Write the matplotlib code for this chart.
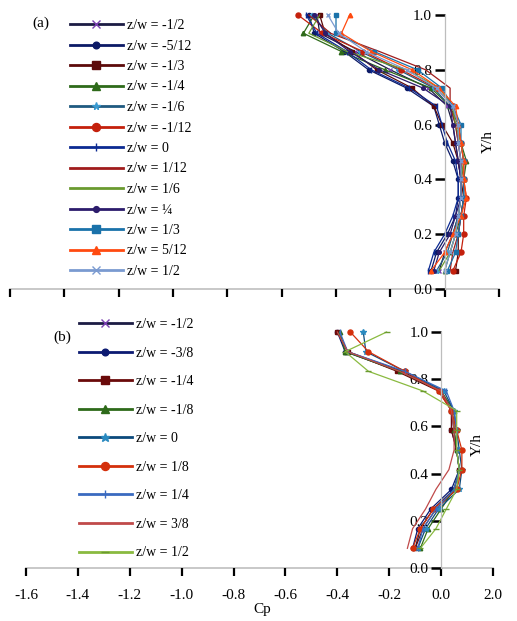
import matplotlib
matplotlib.use("Agg")
import matplotlib.pyplot as plt
import numpy as np

plt.rcParams['font.family'] = ['Liberation Serif', 'DejaVu Serif']

W, H = 517, 621

# ---------------- data ----------------
levels_a = [k / 15 for k in range(1, 16)]
labels_a = ["z/w = -1/2", "z/w = -5/12", "z/w = -1/3", "z/w = -1/4", "z/w = -1/6",
            "z/w = -1/12", "z/w = 0", "z/w = 1/12", "z/w = 1/6", "z/w = \u00bc",
            "z/w = 1/3", "z/w = 5/12", "z/w = 1/2"]
cp_a = [
    [-0.02, 0.00, 0.03, 0.05, 0.06, 0.06, 0.05, 0.04, 0.03, 0.01, -0.06, -0.20, -0.33, -0.46, -0.47],
    [-0.05, -0.03, 0.01, 0.04, 0.05, 0.05, 0.03, 0.00, -0.02, -0.04, -0.14, -0.28, -0.37, -0.48, -0.50],
    [0.04, 0.05, 0.05, 0.06, 0.07, 0.06, 0.05, 0.03, -0.01, -0.04, -0.12, -0.25, -0.34, -0.44, -0.46],
    [0.00, 0.02, 0.04, 0.06, 0.07, 0.07, 0.08, 0.06, 0.05, 0.02, -0.05, -0.22, -0.38, -0.52, -0.48],
    [-0.03, 0.01, 0.03, 0.05, 0.06, 0.06, 0.06, 0.05, 0.04, 0.02, -0.04, -0.17, -0.31, -0.43, -0.49],
    [0.03, 0.06, 0.07, 0.07, 0.08, 0.07, 0.07, 0.06, 0.05, 0.03, -0.03, -0.16, -0.30, -0.45, -0.54],
    [-0.06, -0.04, 0.00, 0.03, 0.05, 0.05, 0.04, 0.01, -0.01, -0.03, -0.13, -0.27, -0.36, -0.47, -0.51],
    [0.02, 0.03, 0.05, 0.06, 0.07, 0.07, 0.06, 0.05, 0.04, 0.02, 0.02, -0.07, -0.24, -0.42, -0.50],
    [-0.02, 0.02, 0.04, 0.05, 0.06, 0.06, 0.07, 0.06, 0.04, 0.03, -0.02, -0.14, -0.36, -0.50, -0.46],
    [-0.04, -0.02, 0.02, 0.04, 0.06, 0.06, 0.05, 0.04, 0.03, 0.02, -0.08, -0.24, -0.35, -0.44, -0.48],
    [0.01, 0.04, 0.05, 0.06, 0.07, 0.07, 0.07, 0.06, 0.06, 0.03, -0.01, -0.10, -0.26, -0.40, -0.40],
    [-0.05, 0.00, 0.03, 0.06, 0.08, 0.07, 0.07, 0.06, 0.05, 0.04, -0.02, -0.12, -0.27, -0.38, -0.35],
    [0.00, 0.02, 0.04, 0.05, 0.06, 0.06, 0.06, 0.05, 0.05, 0.03, -0.03, -0.14, -0.29, -0.39, -0.43],
]

levels_b = [k / 12 for k in range(1, 13)]
labels_b = ["z/w = -1/2", "z/w = -3/8", "z/w = -1/4", "z/w = -1/8", "z/w = 0",
            "z/w = 1/8", "z/w = 1/4", "z/w = 3/8", "z/w = 1/2"]
cp_b = [
    [-0.10, -0.08, -0.03, 0.05, 0.07, 0.06, 0.05, 0.04, 0.00, -0.15, -0.36, -0.40],
    [-0.11, -0.09, -0.04, 0.04, 0.07, 0.06, 0.04, 0.04, 0.00, -0.16, -0.37, -0.40],
    [-0.10, -0.07, -0.02, 0.06, 0.07, 0.06, 0.04, 0.04, -0.01, -0.17, -0.36, -0.40],
    [-0.08, -0.05, 0.00, 0.05, 0.07, 0.06, 0.05, 0.05, 0.00, -0.16, -0.37, -0.39],
    [-0.09, -0.06, -0.01, 0.07, 0.08, 0.07, 0.06, 0.05, 0.01, -0.14, -0.29, -0.30],
    [-0.11, -0.08, -0.03, 0.06, 0.08, 0.08, 0.06, 0.04, -0.01, -0.14, -0.28, -0.35],
    [-0.09, -0.07, -0.02, 0.05, 0.07, 0.06, 0.06, 0.05, 0.02, -0.14, -0.36, -0.39],
    [-0.13, -0.11, -0.06, -0.02, 0.03, 0.05, 0.05, 0.04, 0.00, -0.16, -0.36, -0.40],
    [-0.08, -0.02, 0.02, 0.06, 0.07, 0.06, 0.06, 0.06, -0.07, -0.28, -0.37, -0.21],
]

xticks = [-1.6, -1.4, -1.2, -1.0, -0.8, -0.6, -0.4, -0.2, 0.0, 0.2]
xticklabels = ["-1.6", "-1.4", "-1.2", "-1.0", "-0.8", "-0.6", "-0.4", "-0.2", "0.0", "2.0"]
yticks = [0.0, 0.2, 0.4, 0.6, 0.8, 1.0]
yticklabels = ["0.0", "0.2", "0.4", "0.6", "0.8", "1.0"]

# ---------------- styles ----------------
style_a = [
    dict(color='#1c1c44', marker='x', mec='#7a40b0', ms=3.5),
    dict(color='#0c1a66', marker='o', mec='#0c1a66', ms=3.0),
    dict(color='#5c0a0a', marker='s', mec='#5c0a0a', ms=3.2),
    dict(color='#2e6a1a', marker='^', mec='#2e6a1a', ms=3.2),
    dict(color='#1f5a80', marker='*', mec='#3a9ad0', ms=3.5),
    dict(color='#c4200c', marker='o', mec='#c4200c', ms=3.6),
    dict(color='#0c2a92', marker='|', mec='#0c2a92', ms=4.0),
    dict(color='#a01c1c', marker='None', mec='#a01c1c', ms=3.0),
    dict(color='#6a9a30', marker='None', mec='#6a9a30', ms=3.0),
    dict(color='#2c1c6c', marker='o', mec='#2c1c6c', ms=2.6),
    dict(color='#1a72aa', marker='s', mec='#1a72aa', ms=3.2),
    dict(color='#ff4a10', marker='^', mec='#ff4a10', ms=3.2),
    dict(color='#7a9ad0', marker='x', mec='#7a9ad0', ms=3.5),
]
style_b = [
    dict(color='#1c1c44', marker='x', mec='#7a40b0', ms=3.5),
    dict(color='#0c1a72', marker='o', mec='#0c1a72', ms=3.0),
    dict(color='#6a0a0a', marker='s', mec='#6a0a0a', ms=3.4),
    dict(color='#2e6a1a', marker='^', mec='#2e6a1a', ms=3.2),
    dict(color='#0c4a7c', marker='*', mec='#2a8ac0', ms=4.0),
    dict(color='#d4300c', marker='o', mec='#d4300c', ms=3.6),
    dict(color='#3a6ac0', marker='|', mec='#3a6ac0', ms=4.0),
    dict(color='#c04a4a', marker='None', mec='#c04a4a', ms=3.0),
    dict(color='#8aba40', marker='_', mec='#6a9a30', ms=4.0),
]

fig = plt.figure(figsize=(W / 100, H / 100), dpi=100)


def px_axes(x0, y_top, x1, y_bot):
    return fig.add_axes([x0 / W, 1 - y_bot / H, (x1 - x0) / W, (y_bot - y_top) / H])


def style_axes(ax, show_xlabels):
    ax.set_xlim(-1.6, 0.2)
    ax.set_ylim(0, 1)
    for s in ['top', 'right']:
        ax.spines[s].set_visible(False)
    ax.spines['left'].set_position(('data', 0))
    ax.spines['left'].set_color('#bdbdbd')
    ax.spines['left'].set_linewidth(0.9)
    ax.spines['bottom'].set_color('#c4c4c4')
    ax.spines['bottom'].set_linewidth(1.3)
    ax.spines['bottom'].set_zorder(0.5)
    ax.set_xticks(xticks)
    ax.set_yticks(yticks)
    ax.set_yticklabels(yticklabels)
    if show_xlabels:
        ax.set_xticklabels(xticklabels)
    else:
        ax.set_xticklabels([])
    ax.tick_params(axis='x', direction='out', length=6, width=1.6, color='black',
                   labelsize=11, pad=9)
    ax.tick_params(axis='y', direction='out', length=7, width=1.8, color='black',
                   labelsize=11, pad=2)
    ax.patch.set_visible(False)


def draw(ax, levels, cps, labels, styles, anchor_px, spacing):
    for vals, lab, st in zip(cps, labels, styles):
        ax.plot(vals, levels, color=st['color'], lw=0.9, marker=st['marker'],
                mec=st['mec'], mfc=st['mec'], ms=st['ms'], mew=1.0, label=lab,
                clip_on=False)
    leg = ax.legend(loc='upper left', bbox_to_anchor=(anchor_px[0] / W, 1 - anchor_px[1] / H),
                    bbox_transform=fig.transFigure, frameon=False, fontsize=10,
                    handlelength=3.8, handletextpad=0.3, labelspacing=spacing,
                    borderpad=0, borderaxespad=0, markerscale=1.6)
    for ln in leg.get_lines():
        ln.set_linewidth(2.0)
    return leg


axa = px_axes(10, 15, 499, 289)
style_axes(axa, False)
draw(axa, levels_a, cp_a, labels_a, style_a, (70, 19), 0.54)

axb = px_axes(26, 332, 493, 568)
style_axes(axb, True)
draw(axb, levels_b, cp_b, labels_b, style_b, (79, 318), 1.12)

fig.text(41 / W, 1 - 23 / H, "(a)", fontsize=11, ha='center', va='center')
fig.text(62 / W, 1 - 337 / H, "(b)", fontsize=11, ha='center', va='center')
fig.text(488 / W, 1 - 142 / H, "Y/h", fontsize=11, ha='center', va='center', rotation=90)
fig.text(477 / W, 1 - 445 / H, "Y/h", fontsize=11, ha='center', va='center', rotation=90)
fig.text(262 / W, 1 - 610 / H, "Cp", fontsize=11, ha='center', va='center')

fig.savefig("out.png", dpi=100)
